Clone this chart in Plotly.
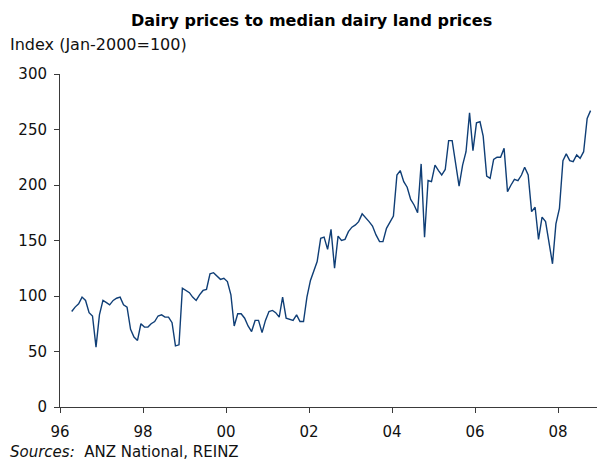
import pandas as pd
import plotly.graph_objects as go

# Monthly index (Jan-2000 = 100), March 1996 to September 2008
start_month = "1996-03-13"
index_values = [
    86, 90, 93, 99, 96, 85, 82, 54, 83, 96,            # Mar96-Dec96
    94, 92, 96, 98, 99, 92, 90, 70, 63, 60, 75, 72,    # 1997
    72, 75, 77, 82, 83, 81, 81, 76, 55, 56, 107, 105,  # 1998
    103, 99, 96, 101, 105, 106, 120, 121, 118, 115, 116, 113,  # 1999
    101, 73, 84, 84, 80, 73, 68, 78, 78, 67, 78, 86,   # 2000
    87, 85, 81, 99, 80, 79, 78, 83, 77, 77, 99, 114,   # 2001
    122, 131, 152, 153, 142, 160, 125, 154, 150, 151, 158, 162,  # 2002
    164, 167, 174, 171, 167, 163, 155, 149, 149, 161, 166, 172,  # 2003
    209, 213, 203, 198, 187, 182, 175, 219, 153, 204, 203, 218,  # 2004
    213, 209, 214, 240, 240, 221, 199, 218, 230, 265, 231, 256,  # 2005
    257, 244, 208, 206, 223, 225, 225, 233, 194, 200, 205, 204,  # 2006
    209, 216, 209, 176, 180, 151, 171, 167, 149, 129, 165, 179,  # 2007
    222, 228, 222, 221, 227, 224, 230, 260, 267,                 # Jan08-Sep08
]

tick_dates = ["1996-01-01", "1998-01-01", "2000-01-01", "2002-01-01",
              "2004-01-01", "2006-01-01", "2008-01-01"]
tick_labels = ["96", "98", "00", "02", "04", "06", "08"]
y_ticks = [0, 50, 100, 150, 200, 250, 300]

dates = pd.date_range(start=start_month, periods=len(index_values), freq="MS") + pd.Timedelta(days=12)

FONT = "Verdana, DejaVu Sans, sans-serif"
AXIS_COLOR = "#3a3a3a"

# page body adds an 8px offset; figure is laid out to compensate
OFF = 8
W, H = 605 - OFF, 463 - OFF
L, T = 60 - OFF, 74 - OFF
PW, PH = 545, 333
B = H - T - PH
R = W - L - PW


def px_x(x):
    return (x - OFF - L) / PW


def px_y(y):
    return (T + PH - (y - OFF)) / PH


fig = go.Figure()
fig.add_trace(go.Scatter(
    x=dates, y=index_values, mode="lines",
    line=dict(color="#0f3e76", width=1.4),
    hoverinfo="skip", showlegend=False,
))

fig.update_layout(
    width=W, height=H,
    margin=dict(l=L, r=R, t=T, b=B, pad=0),
    paper_bgcolor="white", plot_bgcolor="white",
    font=dict(family=FONT, size=14, color="#111"),
    showlegend=False,
    xaxis=dict(
        type="date",
        range=["1996-01-01", "2009-02-17"],
        tickmode="array", tickvals=tick_dates, ticktext=tick_labels,
        showline=True, linecolor=AXIS_COLOR, linewidth=1,
        ticks="outside", ticklen=5, tickcolor=AXIS_COLOR, tickwidth=1,
        showgrid=False, zeroline=False,
        tickfont=dict(family=FONT, size=15, color="#111"),
        ticklabelstandoff=6,
    ),
    yaxis=dict(
        range=[0, 300],
        tickmode="array", tickvals=y_ticks,
        showline=True, linecolor=AXIS_COLOR, linewidth=1,
        ticks="outside", ticklen=5, tickcolor=AXIS_COLOR, tickwidth=1,
        showgrid=False, zeroline=False,
        tickfont=dict(family=FONT, size=15, color="#111"),
        ticklabelstandoff=4,
    ),
    annotations=[
        dict(text="<b>Dairy prices to median dairy land prices</b>",
             xref="paper", yref="paper", x=px_x(311), y=px_y(20),
             xanchor="center", yanchor="middle", showarrow=False,
             font=dict(family=FONT, size=16, color="#000")),
        dict(text="Index (Jan-2000=100)",
             xref="paper", yref="paper", x=px_x(8), y=px_y(44),
             xanchor="left", yanchor="middle", showarrow=False,
             font=dict(family=FONT, size=16, color="#111")),
        dict(text="<i>Sources:</i>  ANZ National, REINZ",
             xref="paper", yref="paper", x=px_x(8), y=px_y(452),
             xanchor="left", yanchor="middle", showarrow=False,
             font=dict(family=FONT, size=15, color="#111")),
    ],
)

fig.write_html("out.html")
